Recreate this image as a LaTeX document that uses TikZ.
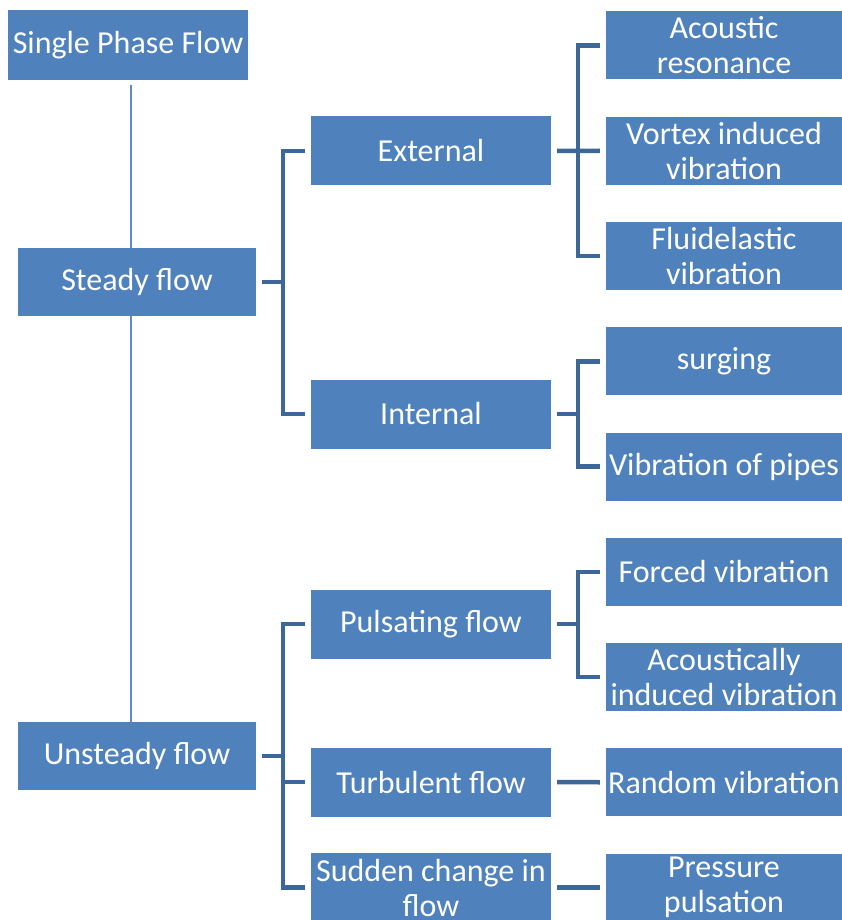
\documentclass[tikz,border=0pt]{standalone}
\usepackage{fontspec}
\setmainfont{Carlito}
\usetikzlibrary{backgrounds}
\definecolor{boxblue}{HTML}{4F81BD}
\definecolor{barblue}{HTML}{3D6699}
\definecolor{trunkblue}{HTML}{5B8CC8}

\begin{document}
\begin{tikzpicture}[x=1pt, y=1pt, node distance={105.25pt},
        main/.style = {fill=boxblue, text=white, inner sep=0pt, align=center,
            minimum width=236pt, minimum height=68pt, font=\fontsize{32}{35}\selectfont},
        mid/.style = {main, minimum width=240pt, minimum height=69pt},
        bar/.style = {barblue, line width=4.5pt},
        trunk/.style = {trunkblue, line width=1.8pt}]
        \useasboundingbox (0,0) rectangle (842,-920);

        \node[main, minimum width=240pt, minimum height=70pt] (1) at (128,-45) {Single Phase Flow};
        \node[main, minimum width=238pt] (2) at (137,-282) {Steady flow};
        \node[main, minimum width=238pt] (3) at (137,-756) {Unsteady flow};

        \node[mid] (4) at (431,-151) {External};
        \node[mid] (5) at (431,-414) {Internal};
        \node[mid] (6) at (431,-624) {Pulsating flow};
        \node[mid] (7) at (431,-782) {Turbulent flow};
        \node[mid] (8) at (431,-887.5) {Sudden change in\\flow};

        \node[main] (9) at (724,-45.5) {Acoustic\\resonance};
        \node[main] (10) [below of=9] {Vortex induced\\vibration};
        \node[main] (11) [below of=10] {Fluidelastic\\vibration};
        \node[main] (12) [below of=11] {surging};
        \node[main] (13) [below of=12] {Vibration of pipes};
        \node[main] (14) [below of=13] {Forced vibration};
        \node[main] (15) [below of=14] {Acoustically\\induced vibration};
        \node[main] (16) [below of=15] {Random vibration};
        \node[main] (17) [below of=16] {Pressure\\pulsation};

        % trunk line
        \begin{scope}[on background layer]
        \draw[trunk] ([xshift=3pt, yshift=-5pt]1.south) -- ([xshift=3pt]1.south |- 3.north);
        \end{scope}

        % steady flow
        \draw[bar] ([xshift=-6pt]4.west) -- ++(-22,0) |- ([xshift=6pt]2.east);
        \draw[bar] ([xshift=-6pt]5.west) -- ++(-22,0) |- ([xshift=6pt]2.east);

        % unsteady flow
        \draw[bar] ([xshift=-6pt]6.west) -- ++(-22,0) |- ([xshift=6pt]3.east);
        \draw[bar] ([xshift=-6pt]7.west) -- ++(-22,0) |- ([xshift=6pt]3.east);
        \draw[bar] ([xshift=-6pt]8.west) -- ++(-22,0) |- ([xshift=6pt]3.east);

        % external
        \draw[bar] ([xshift=-6pt]9.west) -- ++(-22,0) |- ([xshift=6pt]4.east);
        \draw[bar] ([xshift=-6pt]11.west) -- ++(-22,0) |- ([xshift=6pt]4.east);
        \draw[bar] ([xshift=6pt]4.east) -- ([xshift=-6pt]10.west);

        % internal
        \draw[bar] ([xshift=-6pt]12.west) -- ++(-22,0) |- ([xshift=6pt]5.east);
        \draw[bar] ([xshift=-6pt]13.west) -- ++(-22,0) |- ([xshift=6pt]5.east);

        % pulsating flow
        \draw[bar] ([xshift=-6pt]14.west) -- ++(-22,0) |- ([xshift=6pt]6.east);
        \draw[bar] ([xshift=-6pt]15.west) -- ++(-22,0) |- ([xshift=6pt]6.east);

        % single follow-ups
        \draw[bar] ([xshift=6pt]7.east) -- ([xshift=-6pt]16.west);
        \draw[bar] ([xshift=6pt]8.east) -- ([xshift=-6pt]17.west);
    \end{tikzpicture}
\end{document}
